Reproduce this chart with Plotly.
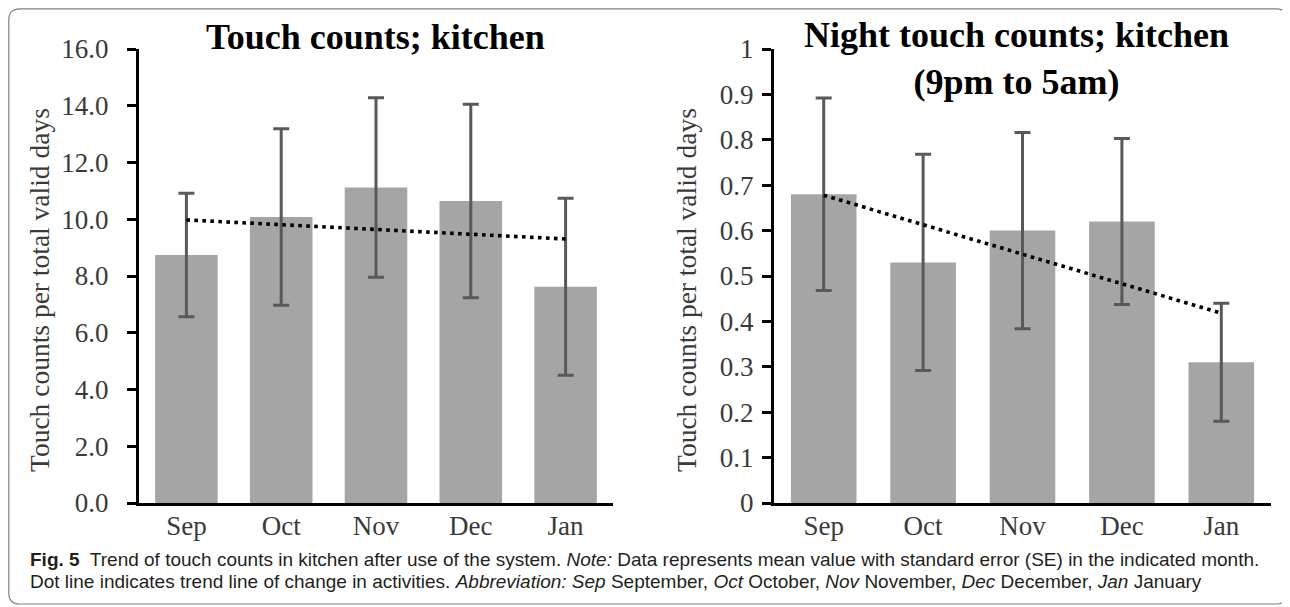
import numpy as np
import plotly.graph_objects as go

months = ["Sep", "Oct", "Nov", "Dec", "Jan"]
day_means = [8.74, 10.08, 11.12, 10.64, 7.62]
day_se = [2.18, 3.11, 3.16, 3.41, 3.12]
night_means = [0.68, 0.53, 0.60, 0.62, 0.31]
night_se = [0.212, 0.238, 0.216, 0.183, 0.13]

title_left = "Touch counts; kitchen"
title_right = "Night touch counts; kitchen<br>(9pm to 5am)"
ytitle = "Touch counts per total valid days"

# page body has an 8px margin: figure is drawn 8px shorter on each axis,
# and screen coordinates are shifted by 8px.
OFF = 8
W, H = 1290 - OFF, 607 - OFF
def px(x): return (x - OFF) / W
def py(y): return 1 - (y - OFF) / H

def trend(vals):
    xs = np.arange(1, len(vals) + 1)
    k, b = np.polyfit(xs, vals, 1)
    return list(k * xs + b)

serif = "Liberation Serif, Times New Roman, serif"
bar_col = "#a5a5a5"
err_col = "#595959"
tick_col = "#3a3a3a"

fig = go.Figure()
for vals, se, xa, ya in [(day_means, day_se, "x", "y"), (night_means, night_se, "x2", "y2")]:
    fig.add_trace(go.Bar(x=months, y=vals, marker=dict(color=bar_col, line=dict(width=0)),
                         error_y=dict(type="data", array=se, visible=True, color=err_col,
                                      thickness=3, width=8),
                         xaxis=xa, yaxis=ya, showlegend=False, hoverinfo="skip"))
    fig.add_trace(go.Scatter(x=months, y=trend(vals), mode="lines",
                             line=dict(color="black", width=3.6, dash="3.6px,4.4px"),
                             xaxis=xa, yaxis=ya, showlegend=False, hoverinfo="skip"))

axis_common = dict(showline=True, linecolor="black", linewidth=3, showgrid=False,
                   zeroline=False, automargin=False,
                   tickfont=dict(family=serif, size=27, color=tick_col))
ytick = dict(ticks="outside", ticklen=9, tickwidth=3, tickcolor="black")
fig.update_layout(
    width=W, height=H, margin=dict(l=0, r=0, t=0, b=0, autoexpand=False),
    paper_bgcolor="white", plot_bgcolor="white", bargap=0.34,
    xaxis=dict(domain=[px(139), px(613)], ticks="", anchor="y", ticklabelstandoff=-3, **axis_common),
    yaxis=dict(domain=[py(503), py(49)], range=[0, 16], dtick=2, tickformat=".1f",
               anchor="x", ticklabelstandoff=13, **ytick, **axis_common),
    xaxis2=dict(domain=[px(774), px(1271)], ticks="", anchor="y2", ticklabelstandoff=-3, **axis_common),
    yaxis2=dict(domain=[py(503), py(49)], range=[0, 1], dtick=0.1,
                anchor="x2", ticklabelstandoff=3, **ytick, **axis_common),
)

ann = [
    dict(text="<b>%s</b>" % title_left, x=px(375), y=py(37), font=dict(family=serif, size=36, color="black")),
    dict(text="<b>%s</b>" % title_right, x=px(1017), y=py(59), font=dict(family=serif, size=36, color="black")),
    dict(text=ytitle, x=px(39), y=py(290), textangle=-90, font=dict(family=serif, size=27.5, color=tick_col)),
    dict(text=ytitle, x=px(686), y=py(290), textangle=-90, font=dict(family=serif, size=27.5, color=tick_col)),
]
cap_font = dict(family="Liberation Sans, sans-serif", size=19, color="#231f20")
ann.append(dict(text="<b>Fig. 5</b>  Trend of touch counts in kitchen after use of the system. <i>Note:</i> Data represents mean value with standard error (SE) in the indicated month.",
                x=px(28), y=py(559), xanchor="left", font=cap_font))
ann.append(dict(text="Dot line indicates trend line of change in activities. <i>Abbreviation: Sep</i> September, <i>Oct</i> October, <i>Nov</i> November, <i>Dec</i> December, <i>Jan</i> January",
                x=px(28), y=py(581), xanchor="left", font=cap_font))
for a in ann:
    a.setdefault("xanchor", "center")
    a.update(xref="paper", yref="paper", yanchor="middle", showarrow=False)
fig.update_layout(annotations=ann)

# rounded border (screen coordinates)
x0, x1, y0, y1, r = OFF + 0.8, 1287, OFF + 0.8, 604, 11
path = (f"M {px(x0+r)},{py(y0)} L {px(x1-r)},{py(y0)} Q {px(x1)},{py(y0)} {px(x1)},{py(y0+r)} "
        f"L {px(x1)},{py(y1-r)} Q {px(x1)},{py(y1)} {px(x1-r)},{py(y1)} "
        f"L {px(x0+r)},{py(y1)} Q {px(x0)},{py(y1)} {px(x0)},{py(y1-r)} "
        f"L {px(x0)},{py(y0+r)} Q {px(x0)},{py(y0)} {px(x0+r)},{py(y0)} Z")
fig.add_shape(type="path", path=path, xref="paper", yref="paper",
              line=dict(color="#7f7f7f", width=1.2), layer="below")

fig.write_html("out.html")
